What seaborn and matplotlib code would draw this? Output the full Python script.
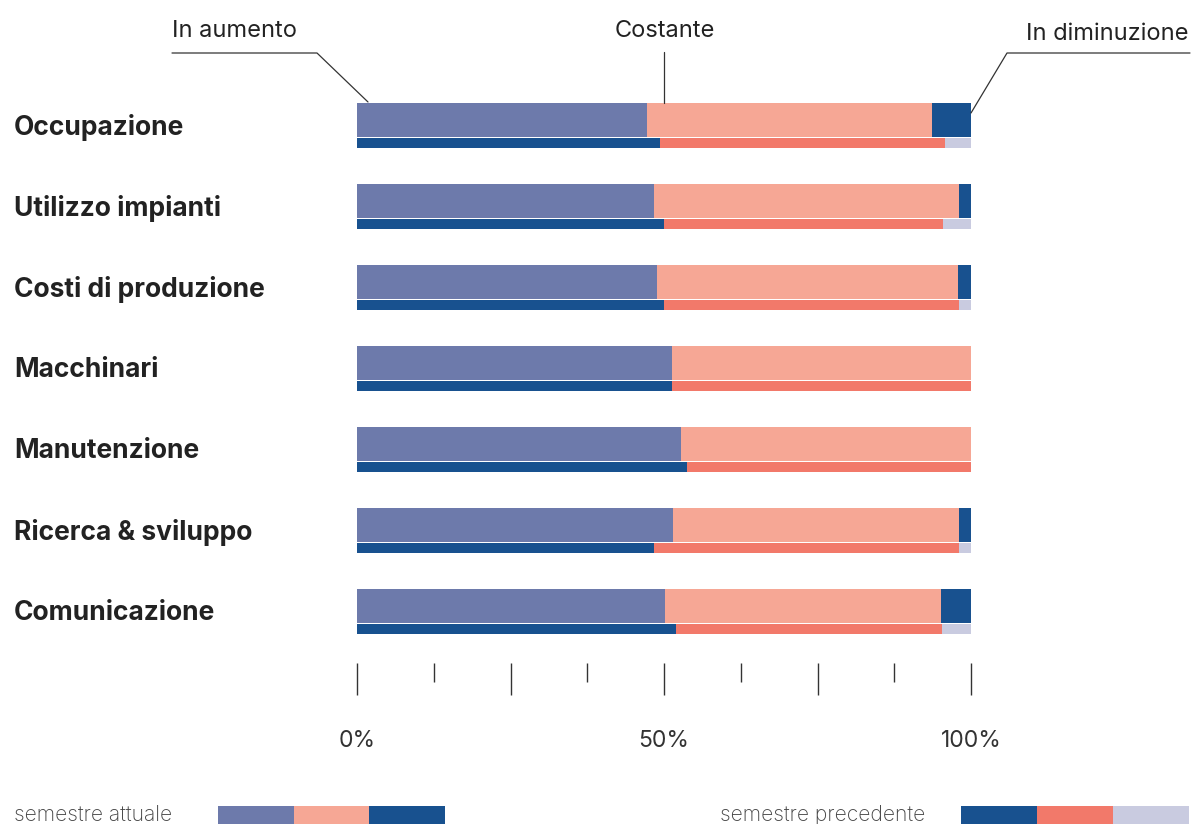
import numpy as np
import pandas as pd
import matplotlib
matplotlib.use("Agg")
import matplotlib.pyplot as plt
from matplotlib.lines import Line2D
from matplotlib.patches import Rectangle
import seaborn as sns

# ---------------- data ----------------
categories = ["Occupazione", "Utilizzo impianti", "Costi di produzione", "Macchinari",
              "Manutenzione", "Ricerca & sviluppo", "Comunicazione"]
# semestre attuale (%)
cur_aumento = [47.2, 48.3, 48.9, 51.3, 52.7, 51.5, 50.1]
cur_costante = [46.5, 49.7, 49.0, 48.7, 47.3, 46.5, 45.0]
cur_diminuzione = [6.3, 2.0, 2.1, 0.0, 0.0, 2.0, 4.9]
# semestre precedente (%)
prev_aumento = [49.4, 50.0, 50.0, 51.3, 53.7, 48.4, 51.9]
prev_costante = [46.3, 45.5, 48.1, 48.7, 46.3, 49.7, 43.3]
prev_diminuzione = [4.3, 4.5, 1.9, 0.0, 0.0, 1.9, 4.8]

tick_major = [0, 25, 50, 75, 100]
tick_major_labels = ["0%", "", "50%", "", "100%"]
tick_minor = [12.5, 37.5, 62.5, 87.5]
annot_labels = ["In aumento", "Costante", "In diminuzione"]
legend_labels = ["semestre attuale", "semestre precedente"]

# ---------------- style ----------------
C_INC = "#6d7aab"
C_CONST = "#f6a795"
C_DEC = "#18518f"
P_INC = "#18518f"
P_CONST = "#f2796a"
P_DEC = "#c9cbe0"

sns.set_theme(style="white")
plt.rcParams["font.family"] = ["Inter", "DejaVu Sans"]

W, H = 1191, 824
fig = plt.figure(figsize=(W / 100, H / 100), dpi=100)

# axes: x 357..971 px, y 60..663 px ; category i centred at pixel 124 + 81*i
ax_left, ax_right = 357, 971
ax_top, ax_bot = 60, 663
ax = fig.add_axes([ax_left / W, 1 - ax_bot / H, (ax_right - ax_left) / W, (ax_bot - ax_top) / H])

idx = np.arange(len(categories))
cur = pd.DataFrame({
    "pos": idx - 0.049,
    "c1": np.array(cur_aumento),
    "c2": np.array(cur_aumento) + np.array(cur_costante),
    "c3": np.array(cur_aumento) + np.array(cur_costante) + np.array(cur_diminuzione),
})
prev = pd.DataFrame({
    "pos": idx + 0.235,
    "c1": np.array(prev_aumento),
    "c2": np.array(prev_aumento) + np.array(prev_costante),
    "c3": np.array(prev_aumento) + np.array(prev_costante) + np.array(prev_diminuzione),
})

for df, width, cols in [(cur, 0.42, (C_INC, C_CONST, C_DEC)), (prev, 0.117, (P_INC, P_CONST, P_DEC))]:
    for col, color in [("c3", cols[2]), ("c2", cols[1]), ("c1", cols[0])]:
        sns.barplot(data=df, x=col, y="pos", orient="y", native_scale=True, width=width,
                    color=color, saturation=1, linewidth=0, errorbar=None, ax=ax)

ax.set_xlim(0, 100)
ax.set_ylim((ax_bot - 124) / 81, (ax_top - 124) / 81)
for s in ax.spines.values():
    s.set_visible(False)
ax.set_xlabel("")
ax.set_ylabel("")

# x ticks
ax.set_xticks(tick_major)
ax.set_xticklabels(tick_major_labels)
ax.set_xticks(tick_minor, minor=True)
ax.tick_params(axis="x", which="major", bottom=True, length=23, width=1, color="#333333",
               pad=25, labelsize=16.5, labelcolor="#333333", direction="out")
ax.tick_params(axis="x", which="minor", bottom=True, length=14, width=1, color="#333333",
               direction="out")

# category labels
ax.set_yticks(idx)
ax.set_yticklabels(categories)
ax.tick_params(axis="y", length=0, pad=(ax_left - 14) * 0.72, labelsize=19, labelcolor="#222222")
for lab in ax.get_yticklabels():
    lab.set_ha("left")
    lab.set_fontweight("bold")

# annotations (figure pixel coordinates)
def fx(x):
    return x / W

def fy(y):
    return 1 - y / H

line_kw = dict(color="#333333", linewidth=0.9, transform=fig.transFigure)
fig.add_artist(Line2D([fx(172), fx(317), fx(368)], [fy(53), fy(53), fy(102)], **line_kw))
fig.add_artist(Line2D([fx(664), fx(664)], [fy(52), fy(103)], **line_kw))
fig.add_artist(Line2D([fx(1190), fx(1007), fx(971)], [fy(53), fy(53), fy(113)], **line_kw))
txt_kw = dict(fontsize=17, color="#222222", va="center")
fig.text(fx(172), fy(31), annot_labels[0], ha="left", **txt_kw)
fig.text(fx(665), fy(31), annot_labels[1], ha="center", **txt_kw)
fig.text(fx(1188), fy(34), annot_labels[2], ha="right", **txt_kw)

# legend
leg_kw = dict(fontsize=15.2, color="#444444", va="center", fontweight="light")
fig.text(fx(14), fy(815), legend_labels[0], ha="left", **leg_kw)
fig.text(fx(720), fy(815), legend_labels[1], ha="left", **leg_kw)
for x0, col in [(218, C_INC), (294, C_CONST), (369, C_DEC), (961, P_INC), (1037, P_CONST), (1113, P_DEC)]:
    fig.add_artist(Rectangle((fx(x0), fy(824)), 76 / W, 18 / H, transform=fig.transFigure,
                             facecolor=col, edgecolor="none"))

fig.savefig("out.png", dpi=100)
